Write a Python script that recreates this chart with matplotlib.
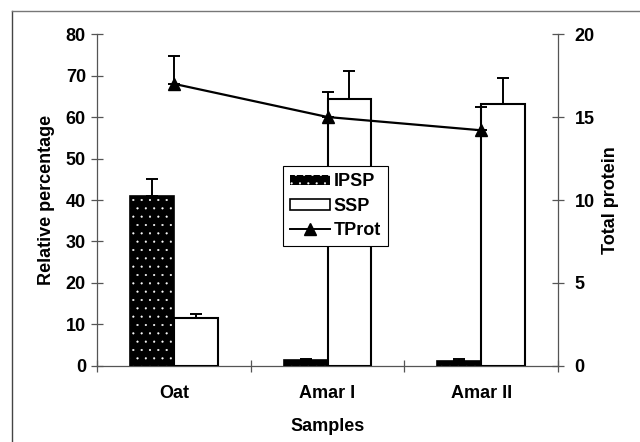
import numpy as np
import matplotlib.pyplot as plt
from matplotlib.lines import Line2D

plt.rcParams['font.family'] = ['Liberation Sans', 'DejaVu Sans']
plt.rcParams['font.weight'] = 'bold'
plt.rcParams['hatch.linewidth'] = 0.3

# datos
samples = ['Oat', 'Amar I', 'Amar II']
ipsp = [41.0, 1.4, 1.2]
ipsp_err = [4.1, 0.4, 0.4]
ssp = [11.6, 64.3, 63.1]
ssp_err = [1.0, 6.9, 6.3]
tprot = [17.0, 15.0, 14.2]
tprot_err = [1.7, 1.5, 1.4]

x = np.arange(len(samples))
w = 0.286
fs = 13

fig = plt.figure(figsize=(6.4, 4.42), dpi=100)
ax = fig.add_axes([0.1516, 0.172, 0.7203, 0.751])
ax2 = ax.twinx()

# marco exterior recortado
fig.add_artist(Line2D([12/640, 12/640], [0, 1 - 11/442], color='#444', lw=1))
fig.add_artist(Line2D([12/640, 1], [1 - 11/442, 1 - 11/442], color='#777', lw=1))

ebar = dict(ecolor='black', elinewidth=1.4, capsize=4.5, capthick=1.4)
ax.bar(x - w/2, ipsp, w, color='black', edgecolor='white', hatch='..', lw=0, zorder=2)
ax.bar(x - w/2, ipsp, w, color='none', edgecolor='black', lw=1.2, zorder=3,
       yerr=[np.zeros(3), ipsp_err], error_kw=ebar)
ax.bar(x + w/2, ssp, w, color='white', edgecolor='black', lw=1.5, zorder=3,
       yerr=[np.zeros(3), ssp_err], error_kw=ebar)

ax2.errorbar(x, tprot, yerr=[np.zeros(3), tprot_err], color='black', lw=1.6,
             marker='^', ms=8, capsize=4.5, elinewidth=1.4, capthick=1.4)

ax.set_xlim(-0.5, 2.5)
ax.set_ylim(0, 80)
ax2.set_ylim(0, 20)
ax.set_yticks(range(0, 81, 10))
ax2.set_yticks(range(0, 21, 5))
ax.set_xticks(x)
ax.set_xticklabels(samples)
ax.set_xticks([-0.5, 0.5, 1.5, 2.5], minor=True)

for a in (ax, ax2):
    for s in a.spines.values():
        s.set_visible(False)
ax.spines['left'].set_visible(True)
ax.spines['bottom'].set_visible(True)
ax2.spines['right'].set_visible(True)
for s in (ax.spines['left'], ax.spines['bottom'], ax2.spines['right']):
    s.set_color('#555')
    s.set_linewidth(0.9)

ax.tick_params(axis='y', direction='inout', length=8, width=0.9, color='#555',
               labelsize=fs, pad=4)
ax2.tick_params(axis='y', direction='inout', length=8, width=0.9, color='#555',
                labelsize=fs, pad=8)
ax.tick_params(axis='x', which='major', length=0, labelsize=fs, pad=14)
ax.tick_params(axis='x', which='minor', direction='inout', length=8, width=0.9,
               color='#555')

ax.set_xlabel('Samples', fontsize=fs, fontweight='bold', labelpad=11)
ax.set_ylabel('Relative percentage', fontsize=fs, fontweight='bold', labelpad=8)
ax2.set_ylabel('Total protein', fontsize=fs, fontweight='bold', labelpad=5)

h1 = plt.Rectangle((0, 0), 1, 1, facecolor='black', edgecolor='white', hatch='..', lw=0)
h2 = plt.Rectangle((0, 0), 1, 1, facecolor='white', edgecolor='black', lw=1.2)
h3 = Line2D([], [], color='black', marker='^', ms=8, lw=1.4)
leg = ax2.legend([h1, h2, h3], ['IPSP', 'SSP', 'TProt'], loc='lower left',
                 bbox_to_anchor=(283/640, 1 - 246/442), bbox_transform=fig.transFigure,
                 fancybox=False, edgecolor='black', framealpha=1, fontsize=fs,
                 handlelength=2.2, handleheight=0.55, handletextpad=0.2,
                 borderpad=0.4, labelspacing=0.4, borderaxespad=0)
leg.get_frame().set_linewidth(0.8)

fig.savefig('out.png', dpi=100)
